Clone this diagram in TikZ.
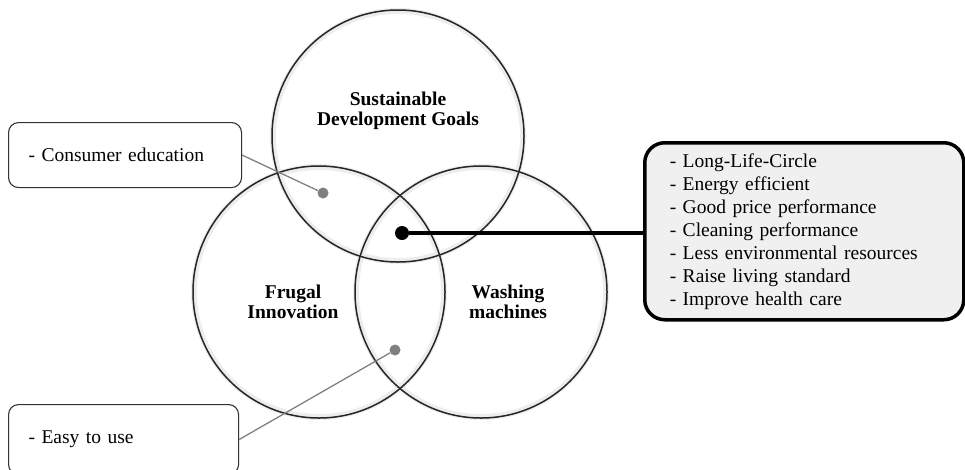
\documentclass[tikz,border=0pt]{standalone}
\usepackage{fontspec}
\setmainfont{Liberation Serif}
\begin{document}
\begin{tikzpicture}[x=1pt,y=-1pt,
  venn/.style={circle, draw=black!85, line width=1.5pt, minimum size=252pt, inner sep=0pt},
  halo/.style={circle, draw=black!7, line width=6pt, minimum size=250pt, inner sep=0pt},
  setlabel/.style={font=\fontsize{19.5}{19.5}\selectfont\bfseries, align=center},
  note/.style={draw=black!80, line width=1.1pt, rounded corners=10pt, anchor=north west,
    inner xsep=20pt, inner ysep=0pt, align=left, font=\fontsize{19.5}{23}\selectfont},
  sidebox/.style={draw=black, line width=3.5pt, fill=black!6, rounded corners=20pt, anchor=north west,
    inner xsep=25pt, inner ysep=0pt, align=left, font=\fontsize{19.5}{23}\selectfont},
  graydot/.style={circle, fill=black!50, minimum size=11pt, inner sep=0pt},
  blackdot/.style={circle, fill=black, minimum size=14pt, inner sep=0pt},
  thinlink/.style={draw=black!50, line width=1.3pt},
  thicklink/.style={draw=black, line width=4pt}
]
\useasboundingbox (0,0) rectangle (965,469);

% soft halos under the three set circles
\node[halo] at (398,136) {};
\node[halo] at (319,292) {};
\node[halo] at (481,292) {};

% the three sets
\node[venn] (sdg) at (398,136) {};
\node[venn] (frugal) at (319,292) {};
\node[venn] (wash) at (481,292) {};

\node[setlabel] (sdglabel) at (398,111) {Sustainable\\Development Goals};
\node[setlabel] (fruglabel) at (293,302) {Frugal\\Innovation};
\node[setlabel] (washlabel) at (508,302) {Washing\\machines};

% callout boxes
\node[note, text width=193pt, minimum height=65pt] (edu) at (8,122) {- Consumer education};
\node[note, text width=190pt, minimum height=70pt] (easy) at (8,404) {- Easy to use};
\node[sidebox, text width=269pt, minimum height=177pt] (benefits) at (643,141)
  {- Long-Life-Circle\\- Energy efficient\\- Good price performance\\- Cleaning performance\\- Less environmental resources\\- Raise living standard\\- Improve health care};

% markers in the overlap regions
\node[graydot] (eduDot) at (323,193) {};
\node[graydot] (easyDot) at (395,350) {};
\node[blackdot] (coreDot) at (402,233) {};

% connectors
\draw[thinlink] (edu.east) -- (eduDot);
\draw[thinlink] (easy.east) -- (easyDot);
\draw[thicklink] (coreDot) -- (coreDot -| benefits.west);
\end{tikzpicture}
\end{document}
